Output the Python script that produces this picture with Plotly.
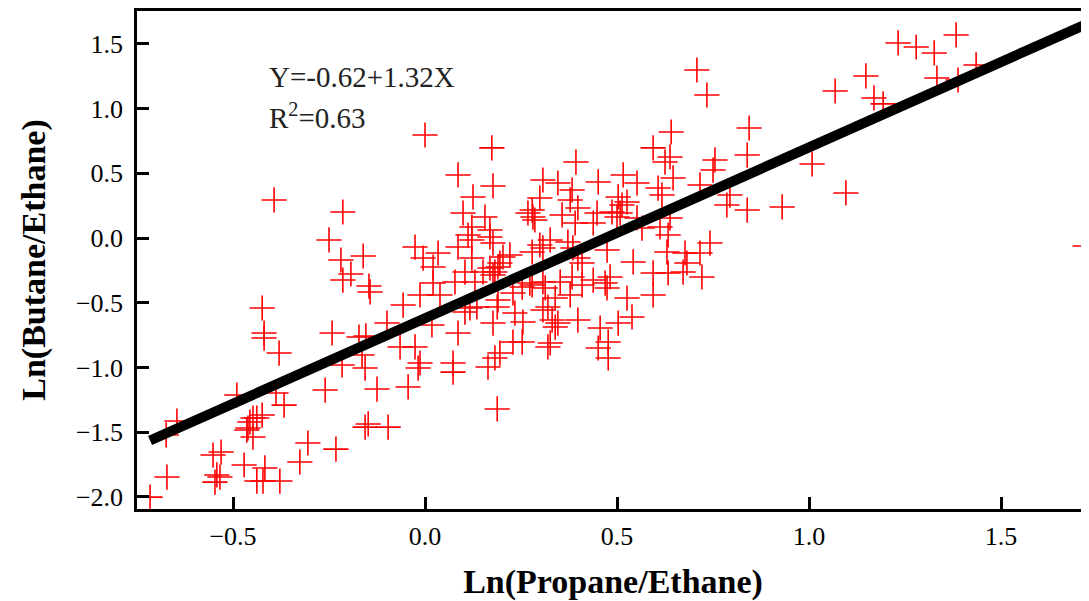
import plotly.graph_objects as go

# Ln(Propane/Ethane) vs Ln(Butane/Ethane) readings
ln_propane_ethane = [
    -0.716, -0.672, -0.674, -0.646, -0.552, -0.531, -0.534, -0.547, -0.542, -0.471,
    -0.438, -0.422, -0.378, -0.417, -0.326, -0.305, -0.232, -0.461, -0.456, -0.448,
    -0.438, -0.424, -0.448, -0.464, -0.490, -0.388, -0.367, -0.260, -0.424, -0.419,
    -0.419, -0.380, -0.242, -0.393, -0.214, -0.250, -0.219, -0.161, -0.214, -0.193,
    -0.146, -0.172, -0.154, -0.164, -0.216, -0.156, -0.125, -0.099, -0.057, -0.065,
    -0.026, -0.156, -0.148, -0.096, -0.143,
    0.000, 0.174, 0.086, 0.177, 0.125, 0.099, 0.156, 0.122, 0.169, 0.112,
    0.169, -0.026, 0.086, 0.122, 0.177, -0.005, 0.034, 0.021, 0.122, 0.021,
    0.078, 0.104, 0.130, 0.151, 0.169, 0.182, -0.013, 0.039, 0.104, 0.117,
    0.135, 0.190, 0.188, 0.018, 0.086, 0.177, -0.013, -0.018, 0.073, 0.073,
    0.164, 0.182, -0.044, 0.188,
    0.229, 0.253, 0.279, 0.313, 0.320, 0.339, 0.378, 0.474, 0.526, 0.234,
    0.255, 0.331, 0.346, 0.339, 0.398, 0.456, 0.503, 0.539, 0.229, 0.253,
    0.326, 0.320, 0.477, 0.451, 0.477, 0.195, 0.307, 0.409, 0.594,
    0.393, 0.516, 0.552, 0.307, 0.346, 0.451, 0.383, 0.299, 0.378, 0.503,
    0.513, 0.526, 0.398, 0.279, 0.268, 0.281, 0.357, 0.448, 0.487, 0.500,
    0.508, 0.552, 0.391, 0.438, 0.286, 0.299, 0.307, 0.326, 0.279, 0.372,
    0.385, 0.203, 0.221, 0.195, 0.190, 0.398, 0.409, 0.474, 0.542, 0.383,
    0.438, 0.482, 0.469, 0.307, 0.273, 0.352, 0.177,
    0.641, 0.844, 0.594, 0.638, 0.625, 0.839, 0.755, 0.750, 0.646, 0.607,
    0.617, 0.716, 0.794, 0.786, 0.839, 0.930, 0.638, 0.612, 0.565, 0.633,
    0.742, 0.630, 0.677, 0.682, 0.716, 0.633, 0.672, 0.721, 0.594,
    0.708, 0.734, 1.008, 1.096, 1.068, 1.148, 1.169, 1.193, 1.232, 1.279,
    1.326, 1.383, 1.333, 1.388, 1.435, 1.719,
]
ln_butane_ethane = [
    -2.002, -1.847, -1.522, -1.414, -1.677, -1.654, -1.847, -1.886, -1.831, -1.754,
    -1.878, -1.878, -1.878, -1.777, -1.731, -1.584, -1.631, -1.468, -1.422, -1.391,
    -1.391, -1.368, -1.538, -1.484, -1.213, -1.198, -1.291, -1.175, -0.541, -0.734,
    -0.773, -0.889, -0.734, 0.294, 0.201, -0.015, -0.170, -0.139, -0.325, -0.278,
    -0.371, -0.765, -0.757, -0.904, -0.981, -1.005, -1.167, -0.657, -0.518, -0.842,
    -0.842, -1.461, -1.437, -1.461, -0.417,
    0.796, 0.696, 0.487, 0.402, 0.317, 0.193, 0.162, 0.085, 0.062, 0.023,
    0.008, -0.070, -0.070, -0.015, -0.039, -0.155, -0.116, -0.224, -0.155, -0.348,
    -0.340, -0.263, -0.340, -0.263, -0.232, -0.263, -0.440, -0.440, -0.572, -0.541,
    -0.533, -0.479, -0.533, -0.672, -0.734, -0.657, -0.966, -1.005, -0.966, -1.036,
    -0.997, -0.927, -1.151, -1.321,
    -0.425, -0.379, -0.363, -0.386, -0.533, -0.464, -0.440, -0.386, -0.464, -0.580,
    -0.649, -0.634, -0.657, -0.688, -0.634, -0.696, -0.657, -0.610, -0.804, -0.804,
    -0.811, -0.842, -0.804, -0.850, -0.927, -0.889, -0.556, -0.363, -0.440,
    0.587, 0.487, 0.425, 0.448, 0.425, 0.433, 0.371, 0.309, 0.294, 0.317,
    0.255, 0.278, 0.232, 0.216, 0.193, 0.162, 0.178, 0.193, 0.201, 0.162,
    0.193, 0.155, 0.116, 0.116, 0.139, -0.054, -0.077, -0.015, -0.108, -0.031,
    -0.077, -0.147, -0.131, -0.193, -0.224, -0.155, -0.193, -0.093, -0.185, -0.301,
    -0.325, -0.301, -0.348, -0.340, -0.348, -0.340, -0.286,
    0.819, 0.850, 0.696, 0.626, 0.587, 0.641, 0.603, 0.525, 0.464, 0.386,
    0.332, 0.410, 0.332, 0.255, 0.216, 0.240, 0.155, 0.085, 0.077, 0.023,
    -0.039, -0.108, -0.116, -0.193, -0.116, -0.270, -0.263, -0.301, -0.270,
    1.298, 1.105, 0.572, 0.348, 1.136, 1.252, 1.082, 1.036, 1.507, 1.476,
    1.430, 1.569, 1.236, 1.221, 1.337, -0.062,
]

# fitted line Y = a + bX
intercept = -0.62
slope = 1.32
r_squared = 0.63
fit_x = [-0.716, 1.72]
fit_y = [intercept + slope * v for v in fit_x]

serif = "Liberation Serif"

fig = go.Figure()
fig.add_trace(go.Scatter(
    x=ln_propane_ethane, y=ln_butane_ethane, mode="markers",
    marker=dict(symbol="cross-thin", size=18, color="#ff0000",
                line=dict(color="#ff0000", width=1.6)),
    showlegend=False, hoverinfo="x+y",
))
fig.add_trace(go.Scatter(
    x=fit_x, y=fit_y, mode="lines",
    line=dict(color="black", width=10),
    showlegend=False, hoverinfo="skip",
))

fig.add_annotation(x=-0.411, y=1.244, xref="x", yref="y",
                   text=f"Y={intercept}+{slope}X", showarrow=False,
                   xanchor="left", yanchor="middle",
                   font=dict(family=serif, size=29, color="#222"))
fig.add_annotation(x=-0.411, y=0.943, xref="x", yref="y",
                   text=f"R<sup>2</sup>={r_squared}", showarrow=False,
                   xanchor="left", yanchor="middle",
                   font=dict(family=serif, size=29, color="#222"))

axis_common = dict(
    showgrid=False, zeroline=False, automargin=False,
    showline=True, linecolor="black", linewidth=2.5,
    ticks="inside", ticklen=12, tickwidth=2.5, tickcolor="black",
    tickfont=dict(family=serif, size=26, color="black"),
    tickformat=".1f", dtick=0.5,
)

# page body keeps an 8px margin, so the figure is sized to fit inside it
fig.update_layout(
    width=1081, height=593,
    margin=dict(l=129, r=0, t=3, b=92),
    paper_bgcolor="white", plot_bgcolor="white",
    xaxis=dict(axis_common, range=[-0.75, 1.729], tick0=0, mirror=True,
               ticklabelstandoff=2,
               title=dict(text="Ln(Propane/Ethane)", standoff=20,
                          font=dict(family=serif, size=34, color="black", weight="bold"))),
    yaxis=dict(axis_common, range=[-2.094, 1.754], tick0=0,
               ticklabelstandoff=6,
               title=dict(text="Ln(Butane/Ethane)", standoff=20,
                          font=dict(family=serif, size=34, color="black", weight="bold"))),
)

fig.write_html("out.html")
